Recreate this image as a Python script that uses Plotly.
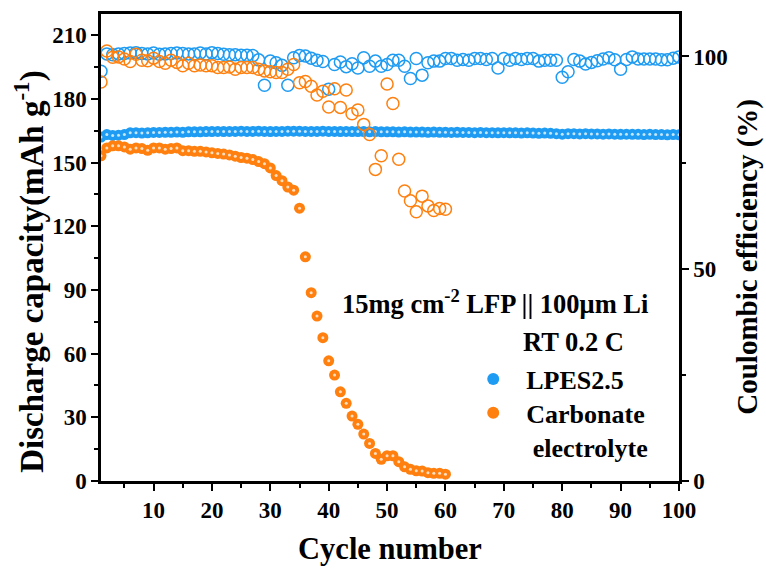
import plotly.graph_objects as go

# Cycle indices
cycles_lpes = list(range(1, 101))
cycles_carb = list(range(1, 61))

# Discharge capacity (mAh g-1)
cap_lpes = [
    162.0, 163.2, 162.8, 162.9, 163.2, 164.0, 164.1, 163.9, 164.0, 164.2,
    164.2, 164.3, 164.3, 164.4, 164.3, 164.5, 164.5, 164.5, 164.6, 164.6,
    164.7, 164.6, 164.7, 164.7, 164.8, 164.7, 164.7, 164.8, 164.7, 164.6,
    164.7, 164.7, 164.8, 164.8, 164.8, 164.7, 164.7, 164.7, 164.8, 164.7,
    164.7, 164.6, 164.7, 164.6, 164.6, 164.6, 164.5, 164.6, 164.5, 164.5,
    164.5, 164.4, 164.5, 164.4, 164.4, 164.4, 164.3, 164.4, 164.3, 164.3,
    164.2, 164.3, 164.2, 164.2, 164.1, 164.2, 164.1, 164.1, 164.0, 164.1,
    164.0, 164.0, 163.9, 164.0, 163.9, 163.8, 163.9, 163.8, 163.6, 163.4,
    163.6, 163.6, 163.5, 163.6, 163.5, 163.5, 163.4, 163.5, 163.4, 163.3,
    163.4, 163.3, 163.3, 163.2, 163.3, 163.2, 163.2, 163.1, 163.2, 163.1,
]
cap_carb = [
    153.2, 156.9, 157.9, 157.9, 157.4, 156.3, 156.9, 156.6, 155.8, 156.9,
    156.9, 156.3, 156.6, 156.9, 155.6, 155.6, 155.3, 155.3, 155.0, 154.6,
    154.3, 154.0, 153.6, 153.0, 152.4, 152.1, 151.4, 150.5, 149.5, 147.5,
    143.9, 141.5, 138.5, 137.0, 128.5, 105.6, 88.7, 77.7, 67.5, 56.6,
    49.9, 42.0, 36.6, 30.6, 26.7, 22.1, 17.7, 13.0, 10.2, 11.9,
    11.9, 9.1, 6.7, 5.5, 4.8, 4.7, 3.9, 3.6, 3.6, 3.2,
]

# Coulombic efficiency (%)
ce_lpes = [
    96.5, 100.6, 100.4, 100.6, 100.7, 100.8, 100.9, 100.7, 100.6, 100.8,
    100.5, 100.6, 100.7, 100.8, 100.7, 100.6, 100.6, 100.8, 100.6, 100.9,
    100.7, 100.5, 100.4, 100.4, 100.3, 100.3, 100.2, 99.2, 93.2, 98.9,
    98.5, 97.9, 93.2, 99.7, 100.2, 100.1, 99.6, 99.1, 98.8, 92.3,
    98.1, 98.7, 97.6, 98.3, 97.3, 99.7, 97.7, 98.9, 97.7, 98.1,
    99.1, 99.1, 97.7, 94.8, 99.5, 95.6, 98.5, 98.9, 98.9, 99.5,
    99.5, 99.1, 99.3, 99.1, 99.5, 99.5, 99.3, 99.5, 97.3, 99.5,
    99.1, 99.5, 99.3, 99.5, 99.5, 98.9, 99.1, 99.1, 99.1, 95.1,
    96.4, 99.3, 98.9, 98.2, 98.6, 99.0, 99.4, 99.7, 99.2, 97.0,
    99.3, 99.9, 99.4, 99.4, 99.4, 99.4, 99.2, 99.2, 99.6, 99.9,
]
ce_carb = [
    94.0, 101.3, 99.8, 99.9, 99.4, 98.8, 100.5, 99.1, 99.0, 99.6,
    98.8, 98.4, 99.1, 98.6, 97.8, 98.4, 97.8, 98.0, 97.8, 97.8,
    97.4, 97.4, 97.5, 97.0, 97.4, 97.4, 97.4, 97.0, 96.6, 96.4,
    96.2, 96.2, 97.0, 98.1, 93.8, 94.1, 93.0, 90.9, 91.8, 88.1,
    92.4, 88.0, 92.1, 86.5, 87.4, 84.0, 81.6, 73.4, 76.6, 93.5,
    88.9, 75.8, 68.3, 66.0, 63.4, 67.1, 64.8, 63.7, 64.2, 64.0,
]

BLUE = "#1E9BF2"
ORANGE = "#FF800F"
FONT = "Liberation Serif"
NB = "\u00a0"

fig = go.Figure()

# Coulombic efficiency: hollow circles on the right axis
fig.add_trace(go.Scatter(
    x=cycles_lpes, y=ce_lpes, mode="markers", yaxis="y2", showlegend=False,
    marker=dict(symbol="circle-open", size=12, color=BLUE, line=dict(width=1.5, color=BLUE)),
))
fig.add_trace(go.Scatter(
    x=cycles_carb, y=ce_carb, mode="markers", yaxis="y2", showlegend=False,
    marker=dict(symbol="circle-open", size=12, color=ORANGE, line=dict(width=1.5, color=ORANGE)),
))

# Discharge capacity: solid spheres with a small white highlight
for xs, ys, col, name, leg in [
    (cycles_lpes, cap_lpes, BLUE, NB * 2 + "LPES2.5", "legend"),
    (cycles_carb, cap_carb, ORANGE, NB * 2 + "Carbonate<br>" + NB * 3 + "electrolyte", "legend2"),
]:
    fig.add_trace(go.Scatter(
        x=xs, y=ys, mode="markers", name=name, legend=leg,
        marker=dict(symbol="circle", size=11, color=col, line=dict(width=0)),
    ))
    fig.add_trace(go.Scatter(
        x=xs, y=ys, mode="markers", showlegend=False, hoverinfo="skip",
        marker=dict(symbol="circle", size=3, color="white", opacity=0.75, line=dict(width=0)),
    ))

axis_common = dict(
    showline=True, linecolor="black", linewidth=2.5,
    ticks="outside", ticklen=7, tickwidth=2, tickcolor="black",
    showgrid=False, zeroline=False, automargin=False,
    tickfont=dict(family=FONT, size=23, color="black", weight="bold"),
)
minor_common = dict(ticks="outside", ticklen=4, tickwidth=2, tickcolor="black", tick0=0)
legend_common = dict(
    xanchor="left", yanchor="top", bgcolor="rgba(0,0,0,0)", borderwidth=0,
    valign="top", font=dict(family=FONT, size=26, color="black", weight="bold"),
    itemsizing="constant",
)
text_font = dict(family=FONT, size=26.5, color="black", weight="bold")

fig.update_layout(
    width=766, height=569,
    margin=dict(l=101, r=87, t=14, b=88, autoexpand=False),
    paper_bgcolor="white", plot_bgcolor="white",
    font=dict(family=FONT, color="black"),
    xaxis=dict(
        range=[1, 100], dtick=10, tick0=0, mirror=True, tickangle=0,
        minor=dict(dtick=5, **minor_common),
        title=dict(text="Cycle number", font=dict(family=FONT, size=30.5, weight="bold"), standoff=16),
        **axis_common,
    ),
    yaxis=dict(
        range=[0, 220], dtick=30, tick0=0,
        minor=dict(dtick=15, **minor_common),
        **axis_common,
    ),
    yaxis2=dict(
        range=[0, 110], dtick=50, tick0=0, overlaying="y", side="right",
        minor=dict(dtick=25, **minor_common),
        **axis_common,
    ),
    legend=dict(x=0.644, y=0.2684, **legend_common),
    legend2=dict(x=0.644, y=0.1964, **legend_common),
    annotations=[
        dict(text="Discharge capacity(mAh g<sup>-1</sup>)", xref="paper", yref="paper",
             x=(30 - 101) / 578, y=(481.5 - 272) / 467.5, textangle=-90,
             xanchor="center", yanchor="middle", showarrow=False,
             font=dict(family=FONT, size=33, color="black", weight="bold")),
        dict(text="Coulombic efficiency (%)", xref="paper", yref="paper",
             x=(748 - 101) / 578, y=(481.5 - 257) / 467.5, textangle=-90,
             xanchor="center", yanchor="middle", showarrow=False,
             font=dict(family=FONT, size=29, color="black", weight="bold")),
        dict(text="15mg cm<sup>-2</sup> LFP || 100\u03bcm Li", xref="paper", yref="paper",
             x=0.682, y=0.384, xanchor="center", yanchor="middle", showarrow=False,
             font=text_font),
        dict(text="RT 0.2 C", xref="paper", yref="paper",
             x=0.818, y=0.298, xanchor="center", yanchor="middle", showarrow=False,
             font=text_font),
    ],
)

fig.write_html("out.html")
